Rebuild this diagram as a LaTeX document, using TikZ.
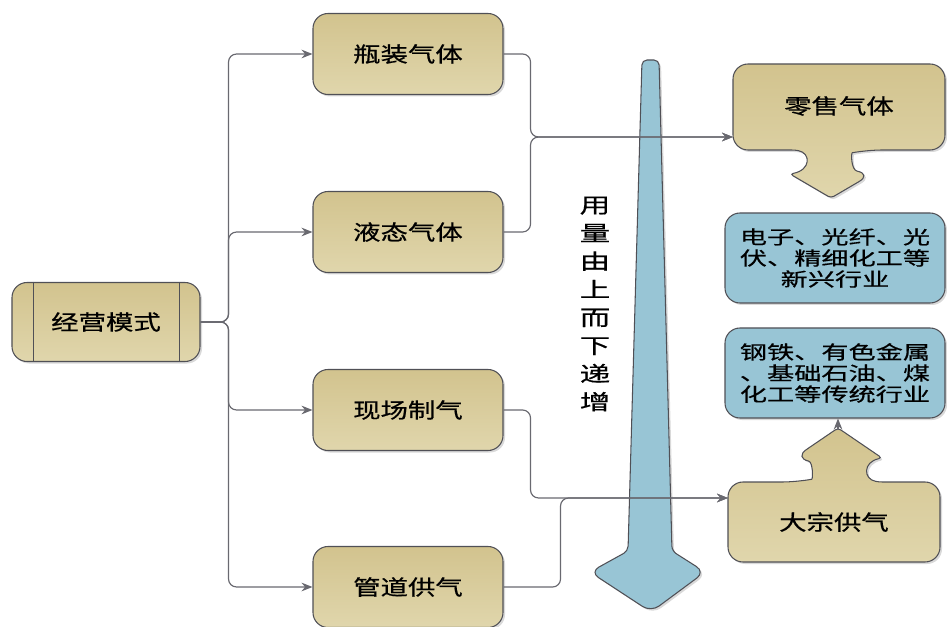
\documentclass[tikz,border=0pt]{standalone}
\usepackage{fontspec}
\newfontfamily\cjk[FakeStretch=1.3, FakeBold=0.6]{Noto Sans CJK SC}
\newfontfamily\cjkwide[FakeStretch=1.45, FakeBold=0.6]{Noto Sans CJK SC}
\usetikzlibrary{arrows.meta, shadows, positioning, calc}
\definecolor{tanTop}{RGB}{210,195,142}
\definecolor{tanBot}{RGB}{224,214,172}
\definecolor{bluFill}{RGB}{152,197,213}
\definecolor{edgeGray}{RGB}{80,80,86}
\definecolor{lineGray}{RGB}{105,105,112}
\tikzset{
  softshadow/.style={drop shadow={shadow xshift=0.6mm, shadow yshift=-0.6mm, opacity=0.3, fill=gray}},
  tanfill/.style={draw=edgeGray, line width=0.9pt, top color=tanTop, bottom color=tanBot, softshadow},
  modebox/.style={tanfill, rounded corners=4.5mm, minimum width=57mm, minimum height=24.3mm,
    font=\cjk\fontsize{18}{19}\selectfont},
  callout/.style={tanfill, rounded corners=4.5mm},
  trade/.style={draw=edgeGray, line width=0.9pt, fill=bluFill, softshadow, rounded corners=4.5mm,
    minimum width=66mm, minimum height=27mm, align=center, font=\cjkwide\fontsize{16}{18}\selectfont},
  conn/.style={draw=lineGray, line width=1pt, rounded corners=2.4mm},
  feed/.style={-{Stealth[length=3.3mm, width=2.6mm]}}
}
\begin{document}
\begin{tikzpicture}[x=0.3mm, y=-0.3mm]
	\useasboundingbox (0,0) rectangle (947,627);
	% volume arrow
	\path[draw=edgeGray, line width=0.9pt, fill=bluFill, softshadow, rounded corners=1.5mm]
		(642,60) -- (659,60) -- (672,551) [rounded corners=3mm] -- (705,572) -- (651,612)
		-- (590,572) [rounded corners=1.5mm] -- (628,551) -- cycle;
	\node[font=\cjkwide\fontsize{18}{24}\selectfont, align=center] (yl) at (595,304)
		{用\\量\\由\\上\\而\\下\\递\\增};
	% source and modes
	\node[modebox, minimum width=56.4mm, minimum height=23.7mm] (jy) at (106,322) {经营模式};
	\draw[edgeGray, line width=0.9pt] ([xshift=6.6mm]jy.north west) -- ([xshift=6.6mm]jy.south west);
	\draw[edgeGray, line width=0.9pt] ([xshift=-6.3mm]jy.north east) -- ([xshift=-6.3mm]jy.south east);
	\node[modebox] (pz) at (408,54) {瓶装气体};
	\node[modebox] (yt) at (408,232) {液态气体};
	\node[modebox] (xc) at (408,410) {现场制气};
	\node[modebox] (gd) at (408,587) {管道供气};
	% supply callouts
	\path[callout] (733,64) -- (945,64) -- (945,150) -- (867,150)
		.. controls (851,153) and (851,170) .. (872,174) [rounded corners=1mm] -- (831,198)
		-- (790,174) .. controls (811,170) and (811,153) .. (795,150) [rounded corners=4.5mm]
		-- (733,150) -- cycle;
	\node[font=\cjk\fontsize{18}{19}\selectfont] (ls) at (839,106) {零售气体};
	\coordinate (lsin) at (733,137);
	\path[callout] (728,562) -- (728,482) -- (797,482)
		.. controls (813,479) and (813,462) .. (794,458) [rounded corners=1mm] -- (838,428)
		-- (882,458) .. controls (863,462) and (863,479) .. (879,482) [rounded corners=4.5mm]
		-- (940,482) -- (940,562) -- cycle;
	\node[font=\cjk\fontsize{18}{19}\selectfont] (dz) at (834,522) {大宗供气};
	\coordinate (dzin) at (728,498);
	\coordinate (dztip) at (838,430);
	% industries
	\node[trade] (hy1) at (835,258) {电子、光纤、光\\伏、精细化工等\\新兴行业};
	\node[trade] (hy2) at (835,373) {钢铁、有色金属\\、基础石油、煤\\化工等传统行业};
	% connectors
	\foreach \m in {pz, yt, xc, gd}
		\draw[conn, feed] (jy.east) -- ++(28,0) |- (\m.west);
	\draw[conn, feed] (pz.east) -- ++(27,0) |- (lsin);
	\draw[conn, feed] (yt.east) -- ++(27,0) |- (lsin);
	\draw[conn, feed] (xc.east) -- ++(27,0) |- (dzin);
	\draw[conn, feed] (gd.east) -- ++(57,0) |- (dzin);
	\draw[conn, feed] (dztip) -- (dztip |- hy2.south);
\end{tikzpicture}
\end{document}
